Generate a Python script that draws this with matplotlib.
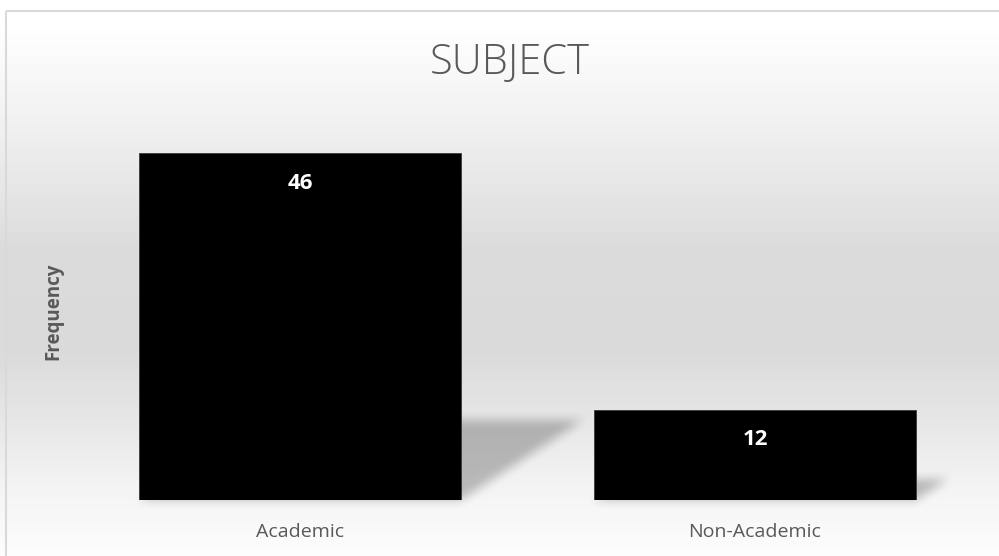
import numpy as np
import matplotlib
matplotlib.use('Agg')
import matplotlib.pyplot as plt
from matplotlib.path import Path
from matplotlib.colors import LinearSegmentedColormap
from matplotlib.patches import Rectangle


#   DATOS
categorias = ['Academic', 'Non-Academic']
frecuencias = [46, 12]
titulo = 'SUBJECT'
etiqueta_y = 'Frequency'

W, H = 999, 556
gris_texto = '#595959'

fig = plt.figure(figsize=(W / 100, H / 100), dpi=100)

#   FONDO CON DEGRADADO
fondo = fig.add_axes([0, 0, 1, 1], zorder=0)
fondo.set_xlim(0, W)
fondo.set_ylim(H, 0)
fondo.axis('off')

paradas = [(0.0, '#ffffff'), (0.05, '#ffffff'), (0.2, '#f3f3f3'), (0.45, '#dcdcdc'),
           (0.62, '#dadada'), (0.75, '#e6e6e6'), (0.9, '#f6f6f6'), (1.0, '#fdfdfd')]
cmap_fondo = LinearSegmentedColormap.from_list('fondo', paradas)
grad = np.linspace(0, 1, H).reshape(-1, 1)
fondo.imshow(grad, cmap=cmap_fondo, extent=[0, W, H, 0], aspect='auto', vmin=0, vmax=1)

#   GRAFICO DE BARRAS
ax = fig.add_axes([72.5 / W, 56 / H, 910 / W, 377 / H], zorder=2)
ax.patch.set_alpha(0)
x = np.arange(len(categorias))
barras = ax.bar(x, frecuencias, width=0.708, color='black', edgecolor='#3a3a3a', linewidth=0.6, zorder=3)
ax.set_xlim(-0.5, len(categorias) - 0.5)
ax.set_ylim(0, 50)
ax.set_xticks(x)
ax.set_xticklabels(categorias, fontsize=14, color=gris_texto, family=['Open Sans', 'DejaVu Sans'])
ax.set_yticks([])
ax.tick_params(axis='x', length=0, pad=16.5)
for s in ax.spines.values():
    s.set_visible(False)

for b, v in zip(barras, frecuencias):
    ax.annotate(str(v), (b.get_x() + b.get_width() / 2, v), xytext=(0, -21.6),
                textcoords='offset points', ha='center', va='center',
                color='white', fontsize=16, fontweight='bold', family=['Open Sans', 'DejaVu Sans'])

ax.set_ylabel(etiqueta_y, fontsize=13.5, fontweight='bold', color=gris_texto, family=['Open Sans', 'DejaVu Sans'])
ax.yaxis.set_label_coords(-0.0104, 0.5)

#   SOMBRAS DE LAS BARRAS (en pixeles)
yy, xx = np.mgrid[0:H, 0:W]
puntos = np.column_stack([xx.ravel() + 0.5, yy.ravel() + 0.5])
mascara = np.zeros(H * W)
for b in barras:
    (x0, y0), (x1, y1) = ax.transData.transform([(b.get_x(), 0), (b.get_x() + b.get_width(), b.get_height())])
    y0, y1 = H - y0, H - y1
    h = y0 - y1
    desp, alto = 0.35 * h, 0.23 * h
    poli = Path([(x0, y0), (x1, y0), (x1 + desp, y0 - alto), (x0 + desp, y0 - alto)])
    mascara = np.maximum(mascara, poli.contains_points(puntos))
mascara = mascara.reshape(H, W)


def suavizar(m, r):
    k = np.ones(2 * r + 1) / (2 * r + 1)
    m = np.apply_along_axis(lambda f: np.convolve(f, k, mode='same'), 0, m)
    m = np.apply_along_axis(lambda f: np.convolve(f, k, mode='same'), 1, m)
    return m


mascara = suavizar(suavizar(mascara, 6), 4)
sombra = np.zeros((H, W, 4))
sombra[..., 3] = mascara * 0.24
fondo.imshow(sombra, extent=[0, W, H, 0], aspect='auto', zorder=2)

#   BORDE DEL AREA DEL GRAFICO
fondo.add_patch(Rectangle((5.5, 10.5), W + 10, H + 10, fill=False, edgecolor='#d9d9d9', linewidth=1.5, zorder=5))

#   TITULO
fig.text(510 / W, 1 - 63 / H, titulo, ha='center', va='center', fontsize=30,
         fontweight='light', color=gris_texto, family=['Open Sans', 'DejaVu Sans'])

plt.savefig('out.png', dpi=100)
